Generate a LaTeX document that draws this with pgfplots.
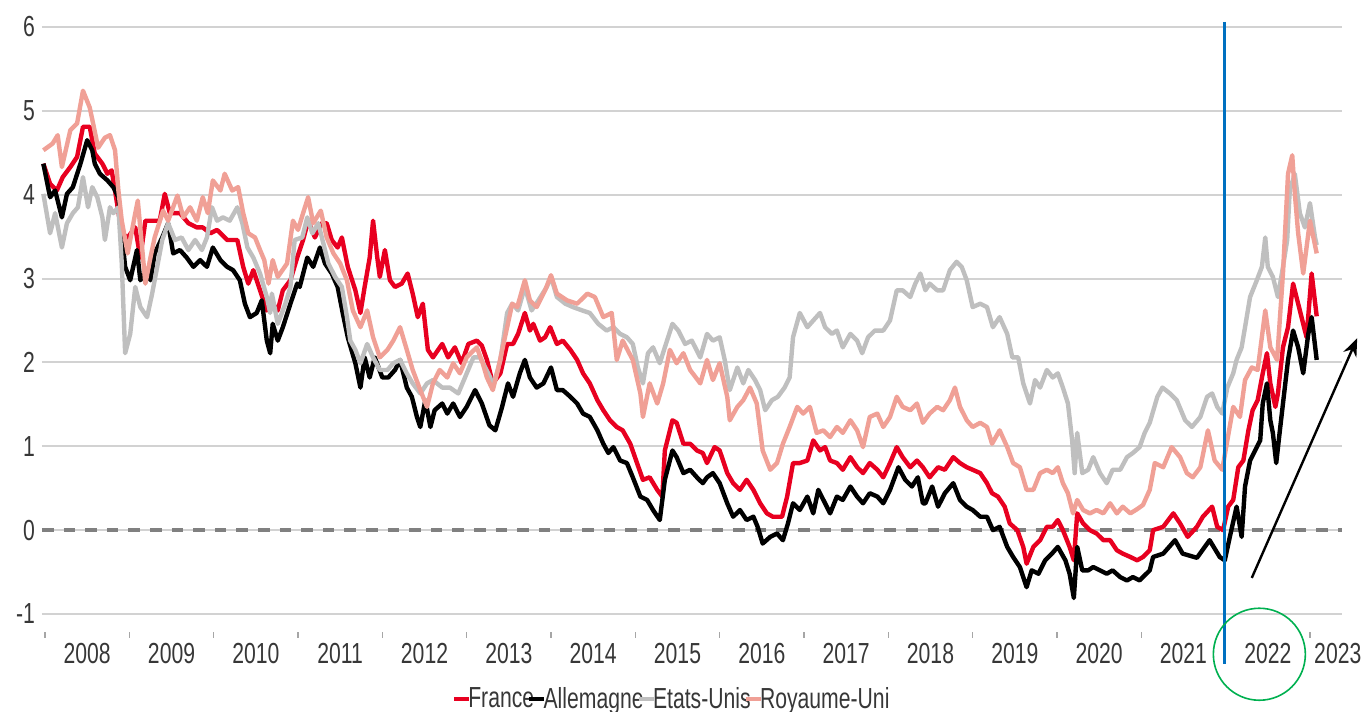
\documentclass[border=0pt]{standalone}
\usepackage{fontspec}
\setmainfont{Liberation Sans}[FakeStretch=0.73]
\usepackage{pgfplots}
\pgfplotsset{compat=1.18}
\usetikzlibrary{arrows.meta}
\definecolor{frred}{RGB}{232,0,32}
\definecolor{ukpink}{RGB}{240,160,150}
\definecolor{usgray}{RGB}{191,191,191}
\definecolor{gridgray}{RGB}{210,210,210}
\definecolor{zerogray}{RGB}{128,128,128}
\definecolor{blueline}{RGB}{0,112,192}
\definecolor{greencirc}{RGB}{0,176,80}
\definecolor{labelgray}{RGB}{55,55,55}
\begin{document}
\begin{tikzpicture}
\path[use as bounding box] (-21pt,-40pt) rectangle (659.5pt,316pt);
\begin{axis}[
  at={(0pt,0pt)}, anchor=south west,
  scale only axis, width=650pt, height=302.5pt,
  xmin=2007.964, xmax=2023.38, ymin=-1.2147, ymax=6,
  clip=false,
  axis line style={draw=none},
  tick pos=left, tick align=outside,
  ytick={-1,0,1,2,3,4,5,6}, yticklabels={-1,0,1,2,3,4,5,6},
  ymajorgrids, grid style={color=gridgray, line width=1pt},
  major tick length=0pt,
  xtick={2008.5,2009.5,2010.5,2011.5,2012.5,2013.5,2014.5,2015.5,2016.5,2017.5,2018.5,2019.5,2020.5,2021.5,2022.5,2023.33},
  xticklabels={2008,2009,2010,2011,2012,2013,2014,2015,2016,2017,2018,2019,2020,2021,2022,2023},
  minor xtick={2008,2009,2010,2011,2012,2013,2014,2015,2016,2017,2018,2019,2020,2021,2022,2023},
  minor tick length=3pt,
  minor x tick style={color=gray!70, line width=0.6pt},
  ticklabel style={font=\fontsize{14.5}{16}\selectfont, text=labelgray},
  xticklabel style={yshift=-2.2pt},
  legend columns=4,
  legend image code/.code={\draw[#1, line width=2.2pt] (0pt,0pt) -- (7.5pt,0pt);},
  legend style={draw=none, fill=none, at={(0.484,0)}, anchor=center, yshift=-33.5pt,
    font=\fontsize{14.5}{16}\selectfont, text=labelgray, inner sep=0pt,
    nodes={inner sep=0.5pt},
    /tikz/every even column/.append style={column sep=-4pt},
    /tikz/every odd column/.append style={column sep=-2pt}},
  every axis plot/.append style={line width=2.2pt, line join=round},
]
% zero line
\addplot[forget plot, color=zerogray, line width=2pt, dash pattern=on 5.8pt off 5pt] coordinates {(2007.964,0) (2023.38,0)};

% France
\addplot[color=frred] coordinates {
(2007.98,4.37)(2008.06,4.13)(2008.14,4.05)(2008.21,4.21)(2008.30,4.33)(2008.38,4.45)(2008.45,4.81)(2008.53,4.81)(2008.59,4.49)(2008.68,4.37)(2008.74,4.25)(2008.79,4.29)(2008.83,4.05)(2008.91,3.54)(2008.98,3.49)(2009.07,3.61)(2009.13,3.25)(2009.19,3.69)(2009.28,3.69)(2009.36,3.69)(2009.42,4.01)(2009.48,3.78)(2009.60,3.78)(2009.70,3.66)(2009.80,3.61)(2009.87,3.61)(2009.96,3.54)(2010.04,3.58)(2010.16,3.46)(2010.28,3.46)(2010.35,3.14)(2010.41,2.94)(2010.47,3.10)(2010.55,2.86)(2010.63,2.62)
(2010.70,2.70)(2010.76,2.62)(2010.82,2.86)(2010.91,2.98)(2010.99,3.25)(2011.06,3.46)(2011.12,3.69)(2011.20,3.49)(2011.28,3.66)(2011.34,3.66)(2011.40,3.46)(2011.47,3.37)(2011.52,3.49)(2011.59,3.14)(2011.68,2.86)(2011.74,2.59)(2011.79,2.90)(2011.85,3.25)(2011.89,3.69)(2011.94,3.25)(2011.97,3.02)(2012.03,3.34)(2012.09,2.98)(2012.15,2.90)(2012.23,2.94)(2012.30,3.06)(2012.36,2.82)(2012.42,2.54)(2012.48,2.70)(2012.54,2.15)(2012.60,2.06)(2012.71,2.22)(2012.78,2.06)(2012.86,2.18)(2012.94,1.99)(2013.02,2.22)(2013.12,2.26)(2013.18,2.20)
(2013.24,2.03)(2013.31,1.75)(2013.40,1.87)(2013.48,2.22)(2013.55,2.22)(2013.61,2.34)(2013.69,2.59)(2013.75,2.38)(2013.79,2.46)(2013.87,2.26)(2013.93,2.30)(2013.99,2.42)(2014.07,2.22)(2014.14,2.26)(2014.23,2.15)(2014.31,2.03)(2014.38,1.87)(2014.46,1.75)(2014.55,1.55)(2014.62,1.43)(2014.70,1.31)(2014.78,1.23)(2014.85,1.19)(2014.94,1.03)(2015.02,0.80)(2015.09,0.60)(2015.17,0.63)(2015.26,0.48)(2015.32,0.40)(2015.35,0.95)(2015.44,1.31)(2015.49,1.28)(2015.57,1.03)(2015.65,1.03)(2015.73,0.95)(2015.80,0.92)
(2015.85,0.80)(2015.94,0.99)(2016.00,0.95)(2016.09,0.68)(2016.16,0.56)(2016.24,0.48)(2016.32,0.60)(2016.40,0.48)(2016.48,0.32)(2016.56,0.20)(2016.63,0.16)(2016.74,0.16)(2016.80,0.40)(2016.87,0.80)(2016.95,0.80)(2017.04,0.83)(2017.11,1.07)(2017.19,0.95)(2017.25,0.99)(2017.31,0.83)(2017.39,0.80)(2017.46,0.72)(2017.55,0.87)(2017.63,0.75)(2017.70,0.68)(2017.78,0.80)(2017.87,0.72)(2017.94,0.63)(2018.02,0.80)(2018.10,0.99)(2018.17,0.87)(2018.26,0.75)(2018.34,0.83)(2018.41,0.75)
(2018.49,0.63)(2018.59,0.75)(2018.67,0.72)(2018.77,0.87)(2018.85,0.80)(2018.93,0.75)(2019.00,0.72)(2019.09,0.68)(2019.17,0.56)(2019.23,0.44)(2019.30,0.40)(2019.38,0.28)(2019.44,0.08)(2019.53,0.00)(2019.60,-0.20)(2019.64,-0.40)(2019.72,-0.20)(2019.80,-0.12)(2019.88,0.04)(2019.95,0.04)(2020.01,0.12)(2020.07,0.00)(2020.15,-0.20)(2020.20,-0.36)(2020.24,0.20)(2020.31,0.08)(2020.39,0.00)(2020.47,-0.04)(2020.55,-0.12)(2020.63,-0.12)(2020.71,-0.24)(2020.78,-0.28)(2020.87,-0.32)(2020.95,-0.36)(2021.02,-0.32)(2021.10,-0.24)
(2021.14,0.00)(2021.26,0.04)(2021.38,0.20)(2021.46,0.08)(2021.55,-0.08)(2021.66,0.04)(2021.73,0.16)(2021.84,0.28)(2021.90,0.04)(2021.97,0.00)(2022.03,0.28)(2022.09,0.36)(2022.15,0.75)(2022.21,0.83)(2022.27,1.19)(2022.32,1.43)(2022.38,1.55)(2022.44,1.87)(2022.49,2.11)(2022.53,1.75)(2022.59,1.47)(2022.62,1.63)(2022.68,2.18)(2022.74,2.42)(2022.80,2.94)(2022.85,2.74)(2022.91,2.50)(2022.96,2.30)(2023.02,3.06)(2023.08,2.55)
};
\addlegendentry{France}

% Allemagne
\addplot[color=black] coordinates {
(2007.98,4.37)(2008.06,3.97)(2008.12,4.05)(2008.20,3.73)(2008.26,4.01)(2008.33,4.09)(2008.42,4.37)(2008.50,4.65)(2008.56,4.53)(2008.59,4.37)(2008.65,4.25)(2008.74,4.17)(2008.81,4.09)(2008.87,3.97)(2008.91,3.54)(2008.95,3.14)(2009.01,2.98)(2009.09,3.34)(2009.13,2.98)(2009.21,3.10)(2009.25,2.98)(2009.30,3.30)(2009.39,3.49)(2009.46,3.66)(2009.52,3.30)(2009.60,3.34)(2009.68,3.25)(2009.76,3.14)(2009.84,3.22)(2009.92,3.14)(2009.99,3.37)(2010.08,3.22)(2010.16,3.14)(2010.23,3.10)(2010.31,2.98)(2010.37,2.70)(2010.43,2.54)(2010.51,2.59)(2010.57,2.74)(2010.63,2.26)(2010.67,2.11)
(2010.70,2.46)(2010.76,2.26)(2010.82,2.42)(2010.91,2.70)(2010.99,2.94)(2011.02,2.90)(2011.11,3.25)(2011.18,3.14)(2011.26,3.37)(2011.32,3.18)(2011.40,3.06)(2011.47,2.90)(2011.53,2.59)(2011.59,2.30)(2011.68,1.99)(2011.74,1.70)(2011.79,2.06)(2011.85,1.82)(2011.91,2.06)(2012.00,1.82)(2012.07,1.82)(2012.15,1.91)(2012.21,2.03)(2012.29,1.70)(2012.35,1.59)(2012.41,1.35)(2012.45,1.23)(2012.51,1.55)(2012.57,1.23)(2012.62,1.43)(2012.71,1.51)(2012.77,1.39)(2012.84,1.51)(2012.92,1.35)(2013.00,1.47)(2013.10,1.67)(2013.18,1.51)(2013.27,1.25)
(2013.34,1.19)(2013.42,1.47)(2013.49,1.75)(2013.55,1.59)(2013.63,1.87)(2013.69,2.03)(2013.75,1.82)(2013.83,1.70)(2013.91,1.75)(2014.00,1.94)(2014.07,1.67)(2014.14,1.67)(2014.23,1.59)(2014.31,1.51)(2014.38,1.39)(2014.46,1.35)(2014.55,1.19)(2014.62,1.03)(2014.68,0.92)(2014.74,0.99)(2014.82,0.83)(2014.90,0.80)(2014.97,0.63)(2015.06,0.40)(2015.14,0.36)(2015.21,0.24)(2015.29,0.12)(2015.35,0.60)(2015.44,0.95)(2015.49,0.87)(2015.57,0.68)(2015.65,0.72)(2015.73,0.63)(2015.80,0.56)
(2015.85,0.63)(2015.92,0.68)(2016.00,0.56)(2016.09,0.32)(2016.16,0.16)(2016.24,0.24)(2016.32,0.12)(2016.40,0.16)(2016.45,0.04)(2016.51,-0.16)(2016.60,-0.08)(2016.68,-0.04)(2016.75,-0.12)(2016.81,0.08)(2016.87,0.32)(2016.95,0.24)(2017.04,0.40)(2017.11,0.20)(2017.17,0.48)(2017.25,0.32)(2017.31,0.20)(2017.39,0.40)(2017.46,0.36)(2017.55,0.52)(2017.63,0.40)(2017.70,0.32)(2017.78,0.44)(2017.87,0.40)(2017.94,0.32)(2018.02,0.48)(2018.12,0.75)(2018.20,0.60)(2018.28,0.52)(2018.35,0.63)(2018.41,0.32)
(2018.44,0.32)(2018.52,0.52)(2018.59,0.28)(2018.67,0.44)(2018.77,0.56)(2018.85,0.36)(2018.93,0.28)(2019.00,0.24)(2019.09,0.16)(2019.17,0.16)(2019.24,0.00)(2019.32,0.04)(2019.41,-0.20)(2019.48,-0.32)(2019.56,-0.44)(2019.64,-0.68)(2019.70,-0.48)(2019.78,-0.52)(2019.86,-0.36)(2019.94,-0.28)(2020.01,-0.20)(2020.10,-0.36)(2020.15,-0.52)(2020.20,-0.81)(2020.24,-0.20)(2020.30,-0.48)(2020.37,-0.48)(2020.43,-0.44)(2020.51,-0.48)(2020.59,-0.52)(2020.66,-0.48)(2020.75,-0.56)(2020.83,-0.60)(2020.90,-0.56)(2020.98,-0.60)(2021.10,-0.48)
(2021.14,-0.32)(2021.26,-0.28)(2021.40,-0.12)(2021.49,-0.28)(2021.66,-0.33)(2021.81,-0.12)(2021.93,-0.32)(2021.99,-0.36)(2022.05,-0.08)(2022.13,0.28)(2022.19,-0.08)(2022.23,0.52)(2022.29,0.83)(2022.35,0.95)(2022.41,1.07)(2022.44,1.51)(2022.49,1.75)(2022.53,1.31)(2022.56,1.16)(2022.60,0.80)(2022.64,1.16)(2022.68,1.51)(2022.74,2.03)(2022.80,2.38)(2022.86,2.18)(2022.92,1.87)(2022.98,2.34)(2023.02,2.54)(2023.08,2.03)
};
\addlegendentry{Allemagne}

% Etats-Unis
\addplot[color=usgray] coordinates {
(2007.98,4.01)(2008.06,3.54)(2008.12,3.78)(2008.20,3.37)(2008.26,3.66)(2008.33,3.78)(2008.39,3.85)(2008.45,4.21)(2008.51,3.85)(2008.56,4.09)(2008.62,3.97)(2008.68,3.73)(2008.71,3.46)(2008.77,3.85)(2008.81,3.78)(2008.87,3.85)(2008.91,3.18)(2008.95,2.11)(2009.01,2.34)(2009.07,2.90)(2009.13,2.66)(2009.21,2.54)(2009.27,2.82)(2009.33,3.14)(2009.39,3.46)(2009.46,3.66)(2009.54,3.46)(2009.62,3.49)(2009.70,3.34)(2009.78,3.46)(2009.86,3.34)(2009.92,3.49)(2009.98,3.85)(2010.04,3.69)(2010.11,3.73)(2010.19,3.69)(2010.28,3.85)(2010.34,3.66)(2010.40,3.37)(2010.47,3.25)(2010.55,3.06)(2010.63,2.78)(2010.67,2.59)
(2010.69,2.82)(2010.76,2.46)(2010.85,2.70)(2010.91,2.90)(2010.96,3.46)(2011.05,3.49)(2011.11,3.73)(2011.17,3.54)(2011.24,3.66)(2011.30,3.42)(2011.36,3.18)(2011.44,3.02)(2011.52,2.90)(2011.58,2.54)(2011.62,2.26)(2011.68,2.15)(2011.74,1.99)(2011.82,2.22)(2011.89,2.06)(2011.97,1.91)(2012.06,1.91)(2012.13,1.99)(2012.21,2.03)(2012.29,1.87)(2012.36,1.75)(2012.45,1.63)(2012.53,1.75)(2012.60,1.79)(2012.71,1.70)(2012.80,1.70)(2012.90,1.63)(2012.98,1.82)(2013.08,2.06)(2013.16,2.06)(2013.28,1.82)
(2013.31,1.70)(2013.40,2.03)(2013.48,2.59)(2013.54,2.70)(2013.61,2.62)(2013.69,2.90)(2013.77,2.62)(2013.85,2.74)(2013.95,2.90)(2014.00,3.02)(2014.07,2.78)(2014.17,2.70)(2014.26,2.66)(2014.37,2.62)(2014.46,2.59)(2014.56,2.46)(2014.66,2.38)(2014.74,2.42)(2014.82,2.34)(2014.90,2.30)(2014.97,2.22)(2015.03,1.94)(2015.09,1.75)(2015.15,2.11)(2015.21,2.18)(2015.29,1.99)(2015.35,2.18)(2015.44,2.46)(2015.51,2.38)(2015.59,2.22)(2015.67,2.26)(2015.77,2.06)
(2015.85,2.34)(2015.92,2.26)(2016.00,2.30)(2016.06,2.03)(2016.12,1.67)(2016.21,1.94)(2016.28,1.75)(2016.34,1.91)(2016.42,1.79)(2016.48,1.67)(2016.54,1.43)(2016.62,1.55)(2016.69,1.59)(2016.77,1.70)(2016.83,1.82)(2016.87,2.30)(2016.95,2.59)(2017.04,2.42)(2017.11,2.50)(2017.19,2.59)(2017.25,2.42)(2017.33,2.34)(2017.39,2.38)(2017.46,2.18)(2017.55,2.34)(2017.63,2.26)(2017.69,2.11)(2017.76,2.30)(2017.84,2.38)(2017.94,2.38)(2018.02,2.50)(2018.10,2.86)(2018.17,2.86)(2018.26,2.78)(2018.32,2.94)(2018.38,3.06)(2018.44,2.86)
(2018.49,2.94)(2018.58,2.86)(2018.65,2.86)(2018.73,3.10)(2018.81,3.20)(2018.87,3.14)(2018.93,2.98)(2019.00,2.66)(2019.09,2.70)(2019.17,2.66)(2019.24,2.42)(2019.32,2.54)(2019.41,2.34)(2019.47,2.06)(2019.54,2.06)(2019.60,1.75)(2019.68,1.51)(2019.74,1.79)(2019.80,1.70)(2019.88,1.91)(2019.95,1.82)(2020.01,1.87)(2020.07,1.70)(2020.13,1.51)(2020.18,1.07)(2020.21,0.68)(2020.24,1.16)(2020.30,0.68)(2020.37,0.72)(2020.43,0.87)(2020.51,0.68)(2020.59,0.56)(2020.66,0.72)(2020.75,0.72)(2020.83,0.87)(2020.90,0.92)(2020.98,0.99)(2021.04,1.16)(2021.10,1.28)
(2021.19,1.59)(2021.25,1.70)(2021.34,1.63)(2021.42,1.55)(2021.52,1.31)(2021.60,1.23)(2021.70,1.35)(2021.78,1.59)(2021.84,1.63)(2021.90,1.47)(2021.96,1.39)(2022.02,1.70)(2022.09,1.87)(2022.13,2.03)(2022.19,2.18)(2022.25,2.54)(2022.29,2.78)(2022.37,2.98)(2022.43,3.14)(2022.47,3.49)(2022.50,3.14)(2022.56,3.02)(2022.62,2.78)(2022.68,3.14)(2022.73,3.46)(2022.76,4.05)(2022.82,4.25)(2022.88,3.78)(2022.94,3.61)(2023.00,3.90)(2023.06,3.49)(2023.08,3.40)
};
\addlegendentry{Etats-Unis}

% Royaume-Uni
\addplot[color=ukpink] coordinates {
(2007.98,4.53)(2008.09,4.61)(2008.15,4.71)(2008.20,4.33)(2008.30,4.77)(2008.38,4.85)(2008.45,5.24)(2008.53,5.04)(2008.57,4.85)(2008.63,4.56)(2008.71,4.68)(2008.77,4.71)(2008.83,4.53)(2008.87,4.05)(2008.91,3.69)(2008.98,3.30)(2009.07,3.78)(2009.10,3.93)(2009.19,2.94)(2009.25,3.25)(2009.30,3.49)(2009.40,3.81)(2009.46,3.69)(2009.57,3.99)(2009.64,3.73)(2009.72,3.85)(2009.80,3.69)(2009.87,3.97)(2009.93,3.78)(2009.99,4.17)(2010.08,4.05)(2010.13,4.25)(2010.22,4.05)(2010.29,4.09)(2010.35,3.78)(2010.41,3.54)(2010.49,3.49)(2010.55,3.34)(2010.60,3.22)(2010.65,2.94)
(2010.70,3.22)(2010.76,3.02)(2010.87,3.18)(2010.94,3.69)(2011.00,3.58)(2011.06,3.78)(2011.12,3.97)(2011.18,3.66)(2011.27,3.81)(2011.34,3.49)(2011.42,3.30)(2011.50,3.18)(2011.58,2.98)(2011.65,2.62)(2011.74,2.42)(2011.82,2.62)(2011.89,2.30)(2011.97,2.06)(2012.06,2.15)(2012.13,2.26)(2012.21,2.42)(2012.29,2.15)(2012.36,1.91)(2012.45,1.67)(2012.53,1.47)(2012.60,1.75)(2012.68,1.91)(2012.77,1.82)(2012.84,1.99)(2012.92,1.87)(2013.00,2.06)(2013.12,2.18)(2013.19,1.99)(2013.24,1.82)(2013.31,1.67)
(2013.37,1.91)(2013.48,2.42)(2013.54,2.70)(2013.60,2.66)(2013.69,2.98)(2013.75,2.74)(2013.83,2.66)(2013.93,2.86)(2014.00,3.04)(2014.07,2.82)(2014.19,2.74)(2014.31,2.70)(2014.43,2.82)(2014.52,2.78)(2014.62,2.54)(2014.72,2.59)(2014.78,2.03)(2014.85,2.26)(2014.97,2.03)(2015.06,1.63)(2015.09,1.35)(2015.17,1.75)(2015.26,1.51)(2015.33,1.75)(2015.41,2.15)(2015.49,1.99)(2015.57,2.11)(2015.65,1.91)(2015.77,1.75)
(2015.85,2.03)(2015.92,1.79)(2016.00,1.99)(2016.09,1.59)(2016.12,1.31)(2016.21,1.47)(2016.28,1.55)(2016.36,1.70)(2016.44,1.51)(2016.51,0.95)(2016.60,0.72)(2016.68,0.80)(2016.75,1.03)(2016.83,1.23)(2016.92,1.47)(2016.99,1.39)(2017.07,1.47)(2017.15,1.16)(2017.23,1.19)(2017.31,1.11)(2017.39,1.23)(2017.46,1.16)(2017.55,1.31)(2017.63,1.19)(2017.70,0.99)(2017.78,1.35)(2017.87,1.39)(2017.94,1.23)(2018.02,1.35)(2018.10,1.59)(2018.17,1.47)(2018.26,1.43)(2018.34,1.51)(2018.41,1.28)(2018.49,1.39)
(2018.58,1.47)(2018.65,1.43)(2018.73,1.55)(2018.79,1.70)(2018.85,1.47)(2018.93,1.31)(2019.00,1.23)(2019.09,1.28)(2019.17,1.23)(2019.23,1.03)(2019.32,1.19)(2019.41,0.99)(2019.48,0.80)(2019.56,0.75)(2019.64,0.48)(2019.72,0.48)(2019.80,0.68)(2019.88,0.72)(2019.95,0.68)(2020.01,0.75)(2020.07,0.56)(2020.13,0.44)(2020.19,0.20)(2020.24,0.36)(2020.31,0.24)(2020.39,0.20)(2020.47,0.24)(2020.55,0.20)(2020.63,0.32)(2020.71,0.20)(2020.78,0.28)(2020.87,0.20)(2020.95,0.25)(2021.02,0.30)(2021.10,0.48)
(2021.16,0.80)(2021.26,0.75)(2021.36,0.99)(2021.46,0.87)(2021.54,0.68)(2021.61,0.63)(2021.70,0.75)(2021.79,1.19)(2021.87,0.83)(2021.96,0.72)(2022.02,1.07)(2022.09,1.47)(2022.17,1.35)(2022.23,1.79)(2022.31,1.94)(2022.38,1.91)(2022.47,2.62)(2022.53,2.18)(2022.61,2.03)(2022.68,3.06)(2022.74,4.25)(2022.79,4.47)(2022.82,4.02)(2022.86,3.54)(2022.92,3.06)(2023.00,3.69)(2023.08,3.30)
};
\addlegendentry{Royaume-Uni}

% vertical marker
\addplot[forget plot, color=blueline, line width=1.3pt] coordinates {(2021.99,6.06) (2021.99,-1.60)};
\draw[greencirc, line width=0.8pt] (axis cs:2022.40,-1.48) circle [radius=23pt];
\draw[line width=1.2pt, -{Stealth[length=9pt,width=7pt]}] (axis cs:2022.31,-0.57) -- (axis cs:2023.56,2.29);
\end{axis}
\end{tikzpicture}
\end{document}
